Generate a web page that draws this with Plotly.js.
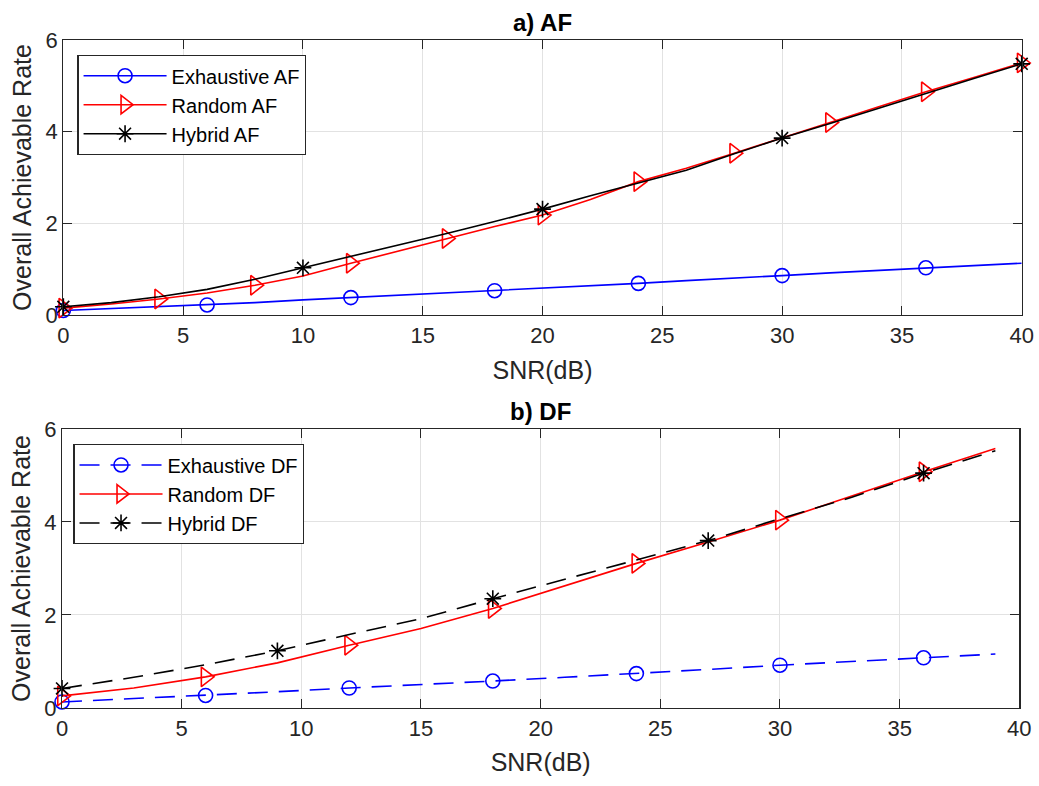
<!DOCTYPE html>
<html>
<head>
<meta charset="utf-8">
<script src="https://cdn.plot.ly/plotly-3.0.1.min.js"></script>
<style>
  html, body { margin: 0; padding: 0; background: #ffffff; }
  #chart { width: 1039px; height: 786px; }
</style>
</head>
<body>
<div id="chart"></div>
<script>
// ---------- Data: a) AF ----------
const snrAF = [0, 2, 4, 6, 8, 10, 12, 14, 16, 18, 20, 22, 24, 26, 28, 30, 32, 34, 36, 38, 40];
const exhaustiveAF = [0.10, 0.14, 0.18, 0.22, 0.27, 0.33, 0.38, 0.43, 0.48, 0.53, 0.58, 0.64, 0.69, 0.75, 0.80, 0.86, 0.92, 0.97, 1.03, 1.08, 1.13];
const randomAF     = [0.15, 0.24, 0.35, 0.48, 0.65, 0.85, 1.13, 1.40, 1.67, 1.93, 2.18, 2.52, 2.91, 3.20, 3.53, 3.86, 4.20, 4.54, 4.87, 5.18, 5.50];
const hybridAF     = [0.18, 0.27, 0.40, 0.56, 0.78, 1.03, 1.27, 1.52, 1.78, 2.04, 2.31, 2.60, 2.88, 3.16, 3.52, 3.86, 4.18, 4.51, 4.84, 5.16, 5.48];
const exhaustiveAFMarkers = [0, 3, 6, 9, 12, 15, 18];
const randomAFMarkers     = [0, 2, 4, 6, 8, 10, 12, 14, 16, 18, 20];
const hybridAFMarkers     = [0, 5, 10, 15, 20];

// ---------- Data: b) DF ----------
const snrDF = [0, 3, 6, 9, 12, 15, 18, 21, 24, 27, 30, 33, 36, 39];
const exhaustiveDF = [0.13, 0.20, 0.27, 0.35, 0.43, 0.50, 0.58, 0.66, 0.74, 0.83, 0.92, 1.00, 1.08, 1.16];
const randomDF     = [0.26, 0.43, 0.67, 0.97, 1.35, 1.71, 2.14, 2.62, 3.11, 3.57, 4.04, 4.56, 5.08, 5.58];
const hybridDF     = [0.42, 0.66, 0.93, 1.23, 1.58, 1.92, 2.35, 2.77, 3.18, 3.60, 4.07, 4.53, 5.05, 5.53];
const exhaustiveDFMarkers = [0, 2, 4, 6, 8, 10, 12];
const randomDFMarkers     = [0, 2, 4, 6, 8, 10, 12];
const hybridDFMarkers     = [0, 3, 6, 9, 12];

const xTickVals = [0, 5, 10, 15, 20, 25, 30, 35, 40];
const yTickVals = [0, 2, 4, 6];
const yLabel = 'Overall Achievable Rate';
const xLabel = 'SNR(dB)';

const FONT = 'Liberation Sans, Arial, Helvetica, sans-serif';
const AXC = '#262626';

function pick(arr, idx) { return idx.map(i => arr[i]); }

function series(name, x, y, idx, color, symbol, msize, dash, xa, ya, legendId) {
  const line = { color: color, width: 1.6, dash: dash };
  const marker = { symbol: symbol, size: msize, color: color, line: { color: color, width: 1.6 } };
  return [
    { x: x, y: y, xaxis: xa, yaxis: ya, mode: 'lines', line: line, showlegend: false, hoverinfo: 'skip' },
    { x: pick(x, idx), y: pick(y, idx), xaxis: xa, yaxis: ya, mode: 'markers', marker: marker,
      cliponaxis: false, showlegend: false },
    { x: [null], y: [null], xaxis: xa, yaxis: ya, mode: 'lines+markers', name: name,
      line: line, marker: marker, legend: legendId, showlegend: true }
  ];
}

const dashDF = '20px,11px';

const data = [].concat(
  series('Exhaustive AF', snrAF, exhaustiveAF, exhaustiveAFMarkers, '#0000ff', 'circle-open', 14, 'solid', 'x', 'y', 'legend'),
  series('Random AF', snrAF, randomAF, randomAFMarkers, '#ff0000', 'triangle-right-open', 17, 'solid', 'x', 'y', 'legend'),
  series('Hybrid AF', snrAF, hybridAF, hybridAFMarkers, '#000000', 'asterisk-open', 14, 'solid', 'x', 'y', 'legend'),
  series('Exhaustive DF', snrDF, exhaustiveDF, exhaustiveDFMarkers, '#0000ff', 'circle-open', 14, dashDF, 'x2', 'y2', 'legend2'),
  series('Random DF', snrDF, randomDF, randomDFMarkers, '#ff0000', 'triangle-right-open', 17, 'solid', 'x2', 'y2', 'legend2'),
  series('Hybrid DF', snrDF, hybridDF, hybridDFMarkers, '#000000', 'asterisk-open', 14, dashDF, 'x2', 'y2', 'legend2')
);

function xAxis(domain, anchor) {
  return {
    domain: domain, anchor: anchor, range: [0, 40], tickvals: xTickVals,
    ticks: 'inside', ticklen: 9, tickwidth: 1, tickcolor: AXC,
    showline: true, linecolor: AXC, linewidth: 1.2, mirror: 'ticks',
    showgrid: true, gridcolor: '#e2e2e2', gridwidth: 1, zeroline: false,
    tickfont: { family: FONT, size: 22, color: AXC },
    title: { text: xLabel, font: { family: FONT, size: 25, color: AXC }, standoff: 14 },
    automargin: false
  };
}
function yAxis(domain, anchor) {
  return {
    domain: domain, anchor: anchor, range: [0, 6], tickvals: yTickVals,
    ticks: 'inside', ticklen: 9, tickwidth: 1, tickcolor: AXC,
    showline: true, linecolor: AXC, linewidth: 1.2, mirror: 'ticks',
    showgrid: true, gridcolor: '#e2e2e2', gridwidth: 1, zeroline: false,
    tickfont: { family: FONT, size: 22, color: AXC },
    title: { text: yLabel, font: { family: FONT, size: 25, color: AXC }, standoff: 6 },
    automargin: false
  };
}

function legendCfg(x, y) {
  return {
    x: x, y: y, xanchor: 'left', yanchor: 'top', xref: 'paper', yref: 'paper',
    bgcolor: '#ffffff', bordercolor: AXC, borderwidth: 1.2,
    font: { family: FONT, size: 20, color: '#000000' },
    itemwidth: 83, tracegroupgap: 0, itemclick: false
  };
}

const layout = {
  width: 1039, height: 786,
  margin: { l: 62, r: 17, t: 40, b: 78 },
  paper_bgcolor: '#ffffff', plot_bgcolor: '#ffffff',
  font: { family: FONT, color: AXC },
  xaxis: xAxis([0.0014, 0.9997], 'y'),
  yaxis: yAxis([0.5883, 1.0], 'x'),
  xaxis2: xAxis([0.0, 0.9972], 'y2'),
  yaxis2: yAxis([0.0, 0.4177], 'x2'),
  legend: legendCfg(0.016, 0.9775),
  legend2: legendCfg(0.0118, 0.3948),
  annotations: [
    { text: '<b>a) AF</b>', xref: 'paper', yref: 'paper', x: 0.5005, y: 1.0257,
      xanchor: 'center', yanchor: 'middle', showarrow: false,
      font: { family: FONT, size: 24, color: '#000000' } },
    { text: '<b>b) DF</b>', xref: 'paper', yref: 'paper', x: 0.4984, y: 0.4441,
      xanchor: 'center', yanchor: 'middle', showarrow: false,
      font: { family: FONT, size: 24, color: '#000000' } }
  ],
  showlegend: true
};

Plotly.newPlot('chart', data, layout, { displayModeBar: false, staticPlot: true });
</script>
</body>
</html>
